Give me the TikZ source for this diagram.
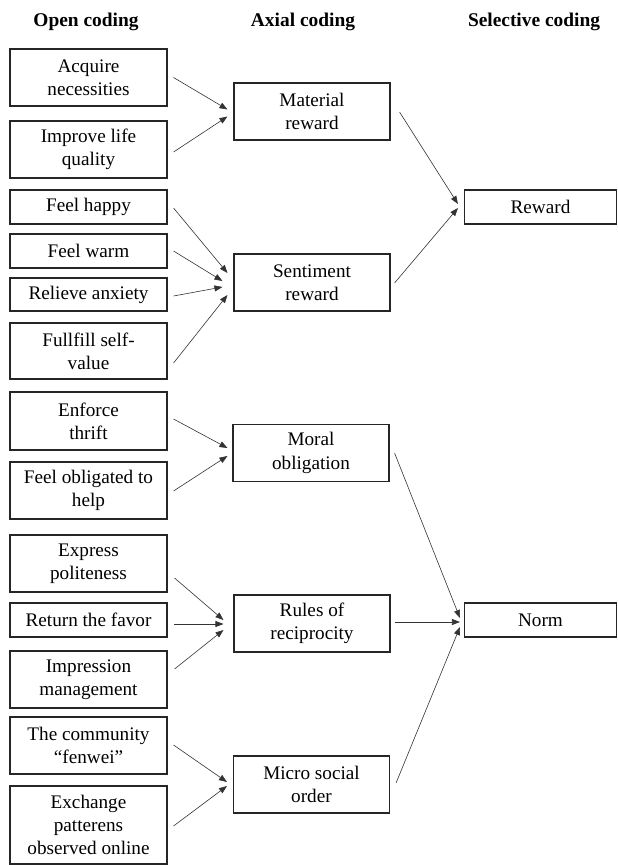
\documentclass[tikz,border=0pt]{standalone}
\usepackage{fontspec}
\setmainfont{Liberation Serif}
\usetikzlibrary{calc,arrows.meta}
\begin{document}
\begin{tikzpicture}[x=1pt,y=-1pt,
  box/.style={draw=black!85,line width=1.1pt,align=center,inner sep=0pt,
    font=\fontsize{19.2}{23.3}\selectfont},
  lbox/.style={box,minimum width=157pt},
  mbox/.style={box,minimum width=156pt,minimum height=57pt},
  rbox/.style={box,minimum width=152pt,minimum height=34pt},
  head/.style={font=\fontsize{19.4}{22}\selectfont\bfseries},
  arr/.style={draw=black!80,line width=0.6pt,-{Triangle[length=8pt,width=6pt]}}]
\useasboundingbox (0,0) rectangle (618,865);
\fill[white] (0,0) rectangle (618,865);
% headers
\node[head] (h1) at (86,22) {Open coding};
\node[head] (h2) at (303,22) {Axial coding};
\node[head] (h3) at (534,22) {Selective coding};
% left boxes
\node[lbox,minimum height=57pt] (a1) at (88.5,77.5) {Acquire\\necessities};
\node[lbox,minimum height=57pt] (a2) at (88.5,149.5) {Improve life\\quality};
\node[lbox,minimum height=34pt] (a3) at (88.5,207) {Feel happy};
\node[lbox,minimum height=34pt] (a4) at (88.5,251) {Feel warm};
\node[lbox,minimum height=33pt] (a5) at (88.5,294.5) {Relieve anxiety};
\node[lbox,minimum height=56pt] (a6) at (88.5,351) {Fullfill self-\\value};
\node[lbox,minimum height=58pt] (a7) at (88.5,421) {Enforce\\thrift};
\node[lbox,minimum height=57pt] (a8) at (88.5,490.5) {Feel obligated to\\help};
\node[lbox,minimum height=57pt] (a9) at (88.5,563.5) {Express\\politeness};
\node[lbox,minimum height=34pt] (a10) at (88.5,620) {Return the favor};
\node[lbox,minimum height=57pt] (a11) at (88.5,679.5) {Impression\\management};
\node[lbox,minimum height=57pt] (a12) at (88.5,745.5) {The community\\``fenwei''};
\node[lbox,minimum height=78pt] (a13) at (88.5,825) {Exchange\\patterens\\observed online};
% middle boxes
\node[mbox] (m1) at (312,111.5) {Material\\reward};
\node[mbox] (m2) at (312,282.5) {Sentiment\\reward};
\node[mbox] (m3) at (311,453) {Moral\\obligation};
\node[mbox] (m4) at (312,623.5) {Rules of\\reciprocity};
\node[mbox] (m5) at (311.5,784.5) {Micro social\\order};
% right boxes
\node[rbox] (r1) at (540.5,207) {Reward};
\node[rbox] (r2) at (540.5,620) {Norm};
% arrows left -> middle
\draw[arr] ($(a1.east)+(6,0)$) -- ($(m1.west)+(-6,-2)$);
\draw[arr] ($(a2.east)+(6,2.5)$) -- ($(m1.west)+(-6,5)$);
\draw[arr] ($(a3.east)+(6,1)$) -- ($(m2.west)+(-6,-9.5)$);
\draw[arr] ($(a4.east)+(6,0)$) -- ($(m2.west)+(-11,-1.5)$);
\draw[arr] ($(a5.east)+(6,1.5)$) -- ($(m2.west)+(-11,4.5)$);
\draw[arr] ($(a6.east)+(6,12)$) -- ($(m2.west)+(-6,12.5)$);
\draw[arr] ($(a7.east)+(6,-2)$) -- ($(m3.west)+(-5,-5)$);
\draw[arr] ($(a8.east)+(6,0.5)$) -- ($(m3.west)+(-5,3)$);
\draw[arr] ($(a9.east)+(7,14.5)$) -- ($(m4.west)+(-10,-3.5)$);
\draw[arr] ($(a10.east)+(6,4)$) -- ($(m4.west)+(-10,0.5)$);
\draw[arr] ($(a11.east)+(7,-10.5)$) -- ($(m4.west)+(-10,6.5)$);
\draw[arr] ($(a12.east)+(6,-0.5)$) -- ($(m5.west)+(-6,-2.5)$);
\draw[arr] ($(a13.east)+(6,1)$) -- ($(m5.west)+(-6,1.5)$);
% arrows middle -> right
\draw[arr] ($(m1.east)+(9,0.5)$) -- ($(r1.west)+(-6,-3)$);
\draw[arr] ($(m2.east)+(4,0.5)$) -- ($(r1.west)+(-6,1)$);
\draw[arr] ($(m3.east)+(5,0)$) -- ($(r2.west)+(-4,-2)$);
\draw[arr] ($(m4.east)+(4,-1.5)$) -- ($(r2.west)+(-4,2)$);
\draw[arr] ($(m5.east)+(6,-1.5)$) -- ($(r2.west)+(-4,7)$);
\end{tikzpicture}
\end{document}
